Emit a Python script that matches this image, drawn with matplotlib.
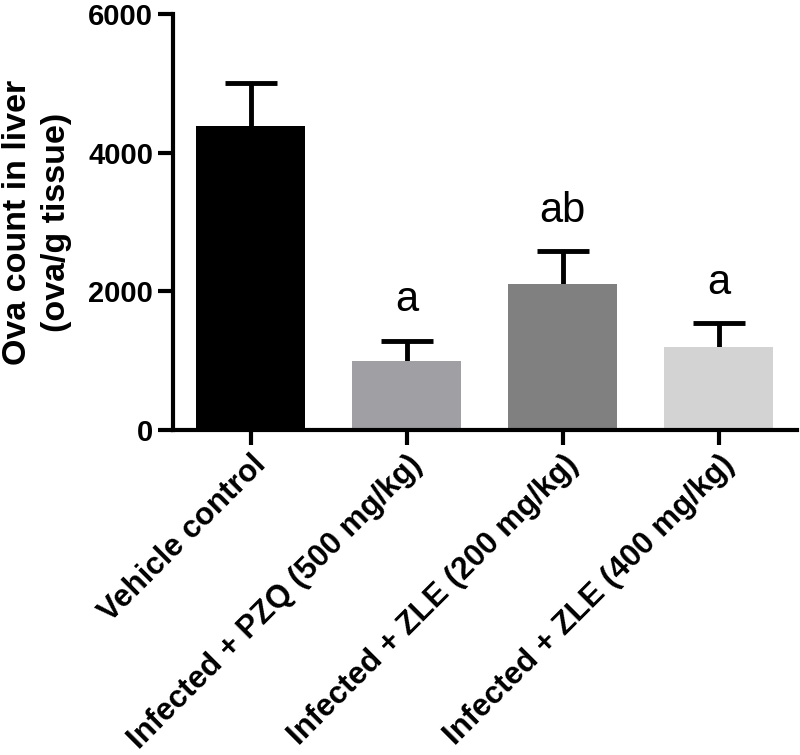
import matplotlib
matplotlib.use("Agg")
import matplotlib.pyplot as plt
import numpy as np

plt.rcParams['font.family'] = ['Liberation Sans', 'DejaVu Sans']

# data
groups = ["Vehicle control",
          "Infected + PZQ (500 mg/kg)",
          "Infected + ZLE (200 mg/kg)",
          "Infected + ZLE (400 mg/kg)"]
ova_mean = [4385, 1000, 2100, 1190]
ova_err = [620, 290, 480, 350]
sig_letters = ["", "a", "ab", "a"]
bar_colors = ["#000000", "#a0a0a4", "#808080", "#d3d3d3"]

fig = plt.figure(figsize=(8, 7.55), dpi=100)
ax = fig.add_axes([0.216, 0.4305, 0.78, 0.551])

x = np.arange(len(groups))
ax.bar(x, ova_mean, width=0.7, color=bar_colors, zorder=2)
_, caps, _ = ax.errorbar(x, ova_mean, yerr=[np.zeros(len(x)), ova_err],
                         fmt='none', ecolor='black', elinewidth=3.5,
                         capsize=19, capthick=3.5, zorder=1)
caps[0].remove()  # only the upper cap, like the original

for xi, m, e, lab in zip(x, ova_mean, ova_err, sig_letters):
    if lab:
        ax.text(xi, m + e + 420, lab, ha='center', va='baseline', fontsize=30)

ax.set_xlim(-0.5, 3.5)
ax.set_ylim(0, 6000)
ax.set_yticks([0, 2000, 4000, 6000])
ax.set_xticks(x)
ax.set_xticklabels(groups, rotation=45, ha='right', rotation_mode='anchor',
                   fontsize=22.5, fontweight='bold')
for t in ax.get_yticklabels():
    t.set_fontsize(21)
    t.set_fontweight('bold')

ax.set_ylabel("Ova count in liver\n(ova/g tissue)", fontsize=24.5,
              fontweight='bold', labelpad=12, linespacing=1.3)

for s in ['top', 'right']:
    ax.spines[s].set_visible(False)
for s in ['left', 'bottom']:
    ax.spines[s].set_linewidth(3)
ax.tick_params(axis='both', width=3, length=11, pad=3)

fig.savefig("out.png", dpi=100, facecolor='white')
